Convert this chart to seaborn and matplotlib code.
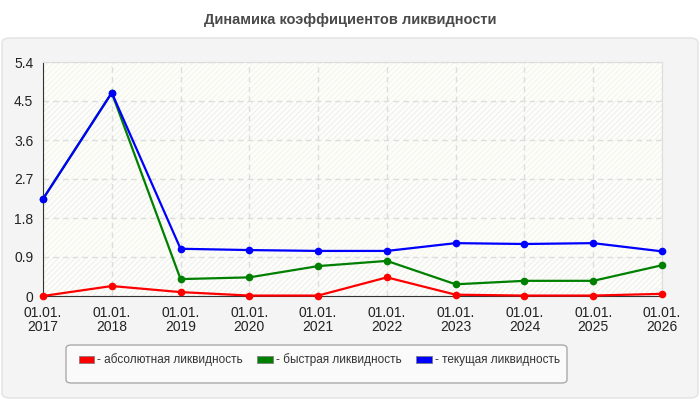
import pandas as pd
import matplotlib.pyplot as plt
import seaborn as sns
from matplotlib.patches import FancyBboxPatch, Patch

# --- Данные ---
years = [2017, 2018, 2019, 2020, 2021, 2022, 2023, 2024, 2025, 2026]
absolute = [0.00, 0.23, 0.09, 0.01, 0.01, 0.43, 0.03, 0.01, 0.01, 0.05]
quick = [2.24, 4.69, 0.39, 0.43, 0.69, 0.81, 0.27, 0.35, 0.35, 0.71]
current = [2.24, 4.69, 1.09, 1.06, 1.04, 1.04, 1.22, 1.20, 1.22, 1.03]
series_names = ["- абсолютная ликвидность", "- быстрая ликвидность", "- текущая ликвидность"]
colors = ["#ff0000", "#008000", "#0000ff"]
y_ticks = [0, 0.9, 1.8, 2.7, 3.6, 4.5, 5.4]
x_labels = [f"01.01.\n{y}" for y in years]

df = pd.DataFrame({
    "year": years * 3,
    "value": absolute + quick + current,
    "series": [series_names[0]] * 10 + [series_names[1]] * 10 + [series_names[2]] * 10,
})

sns.set_style("white")
plt.rcParams["font.family"] = ["Liberation Sans", "DejaVu Sans"]
plt.rcParams["hatch.linewidth"] = 0.6

fig = plt.figure(figsize=(7, 4), dpi=100, facecolor="white")

# фон-панель
panel = FancyBboxPatch((2 / 700, 2 / 400), 696 / 700, 360 / 400,
                       boxstyle="round,pad=0,rounding_size=0.012",
                       transform=fig.transFigure, facecolor="#f4f4f4",
                       edgecolor="#e2e2e2", linewidth=1, zorder=-2)
fig.patches.append(panel)

fig.text(0.5, 1 - 20 / 400, "Динамика коэффициентов ликвидности", ha="center", va="center",
         fontsize=10.5, fontweight="bold", color="#4a4a4a")

ax = fig.add_axes([43 / 700, 1 - 296 / 400, 619 / 700, 234 / 400])
ax.set_facecolor("#fdfdf9")

# полосы фона с штриховкой
for i in range(len(y_ticks) - 1):
    edge = "#ececec" if i % 2 == 0 else "#f3f3ea"
    ax.axhspan(y_ticks[i], y_ticks[i + 1], facecolor="none", edgecolor=edge,
               hatch="//////", linewidth=0, zorder=0)

sns.lineplot(data=df, x="year", y="value", hue="series", palette=colors, marker="o",
             markersize=5.5, markeredgewidth=0, linewidth=1.6, legend=False, ax=ax,
             clip_on=False, zorder=3)

ax.set_xlim(2017, 2026)
ax.set_ylim(0, 5.4)
ax.set_xticks(years)
ax.set_xticklabels(x_labels, fontsize=10, color="#222222", linespacing=1.05)
ax.set_yticks(y_ticks)
ax.set_yticklabels(["0", "0.9", "1.8", "2.7", "3.6", "4.5", "5.4"], fontsize=10, color="#222222")
ax.tick_params(axis="both", length=5, width=1, color="#333333", pad=2)
ax.set_xlabel("")
ax.set_ylabel("")
ax.grid(True, linestyle=(0, (4, 3)), color="#dddddd", linewidth=1)
ax.set_axisbelow(True)
for s in ["top", "right"]:
    ax.spines[s].set_color("#dddddd")
for s in ["left", "bottom"]:
    ax.spines[s].set_color("#333333")

# легенда
box = FancyBboxPatch((66 / 700, 1 - 383 / 400), 501 / 700, 38 / 400,
                     boxstyle="round,pad=0,rounding_size=0.008",
                     transform=fig.transFigure, facecolor="#fafafa",
                     edgecolor="#aaaaaa", linewidth=1, zorder=-1)
fig.patches.append(box)
handles = [Patch(facecolor=c, edgecolor="#777777", linewidth=0.5) for c in colors]
fig.legend(handles, series_names, loc="center left", bbox_to_anchor=(68 / 700, 1 - 360 / 400),
           ncol=3, frameon=False, fontsize=8.5, handlelength=1.3, handleheight=0.6,
           handletextpad=0.25, columnspacing=1.25, labelcolor="#333333")

fig.savefig("out.png", dpi=100, facecolor="white")
